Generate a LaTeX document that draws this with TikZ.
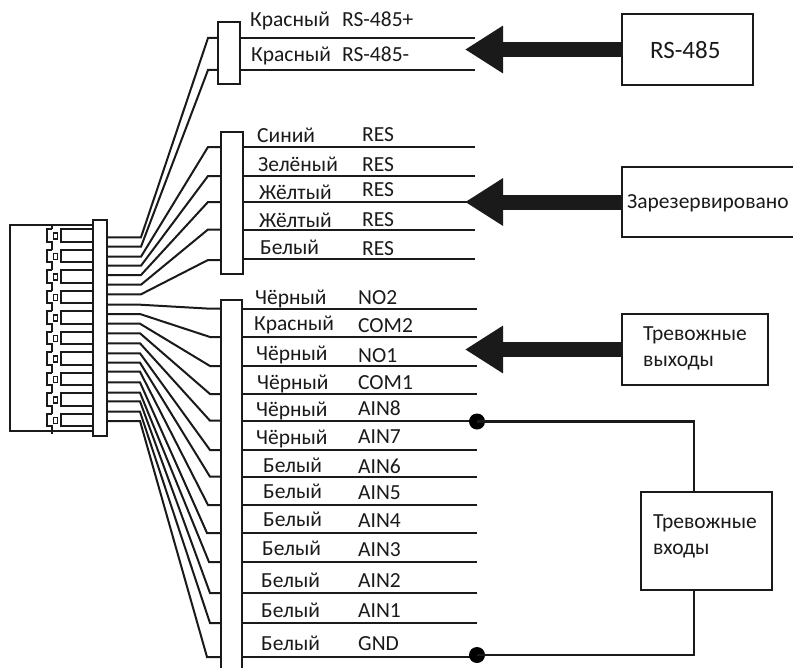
\documentclass[tikz,border=0pt]{standalone}
\usepackage{fontspec}
\setmainfont{Carlito}
\usetikzlibrary{arrows.meta,calc}
\definecolor{ink}{HTML}{1A1A1A}
\tikzset{
  wire/.style={draw=ink,line width=2bp,line join=miter},
  boxnode/.style={draw=ink,line width=2.3bp,fill=white,inner sep=0pt,outer sep=0pt,rectangle},
  strip/.style={boxnode,line width=2.1bp},
  lbl/.style={anchor=base west,inner sep=0pt,font=\fontsize{21.5bp}{24bp}\selectfont,text=ink},
  boxtxt/.style={anchor=base west,inner sep=0pt,font=\fontsize{21.5bp}{24bp}\selectfont,text=ink},
  bigarrow/.style={draw=ink,line width=15bp,-{Triangle[length=38bp,width=45bp]},color=ink},
  dotnode/.style={circle,fill=black,draw=none,minimum size=16bp,inner sep=0pt,outer sep=0pt},
  link/.style={draw=ink,line width=2.3bp},
}
\begin{document}
\begin{tikzpicture}[x=1bp,y=-1bp]
\useasboundingbox (0,0) rectangle (793,668);
\fill[white] (0,0) rectangle (793,668);

% device body
\draw[wire] (93,225) -- (9.5,225) -- (9.5,430.5) -- (93,430.5);
\draw[wire] (51.5,223.5) -- (51.5,229.3);
\foreach \i in {0,...,9}{
  \pgfmathsetmacro{\yo}{229.3+20.5*\i}
  \draw[wire] (51.5,\yo) -- (46.5,\yo) -- (46.5,\yo+12.4) -- (51.5,\yo+12.4) -- (51.5,\yo+20.5);
  \draw[wire,line width=1.6bp] (53.5,\yo+3.5) rectangle (57.5,\yo+9.5);
  \draw[wire] (93,\yo) -- (60.7,\yo) -- (60.7,\yo+12.4) -- (93,\yo+12.4);
}
\draw[wire] (51.5,425) -- (51.5,432);

% wires to the three terminal blocks
\node[strip,minimum width=13.4bp,minimum height=216bp] (conn) at (100,328) {};
\node[strip,minimum width=22bp,minimum height=62bp] (gone) at (229,53) {};
\node[strip,minimum width=22bp,minimum height=142bp] (gtwo) at (232,203) {};
\node[strip,minimum width=21bp,minimum height=372bp] (gthree) at (231.5,486) {};

\foreach \ya/\xe/\yb in {237.3/208/38,246.7/208/70}
  \draw[wire] (conn.east |- 0,\ya) -- (141,\ya) -- (\xe,\yb) -- (gone.west |- 0,\yb);
\foreach \ya/\xe/\yb in {256.7/208/147,265.7/208/176,275/208/202,284.7/208/229.5,294.3/208/260}
  \draw[wire] (conn.east |- 0,\ya) -- (141,\ya) -- (\xe,\yb) -- (gtwo.west |- 0,\yb);
\foreach \ya/\xe/\yb in {304.7/210/308.7,314/210/337,323.7/210/366,333.3/210/394,343.3/210/420.7,353.3/210/450,362.7/210/476.7,371.7/208/505,382.3/207/533,392.7/209/562,401.3/210/593,411.7/210/623,421/207/657}
  \draw[wire] (conn.east |- 0,\ya) -- (140,\ya) -- (\xe,\yb) -- (gthree.west |- 0,\yb);

% wires leaving the blocks
\foreach \y in {38,70}
  \draw[wire] (gone.east |- 0,\y) -- (475,\y);
\foreach \y in {147,176,202,229.5,259}
  \draw[wire] (gtwo.east |- 0,\y) -- (475,\y);
\foreach \y in {308.7,337,366,394,420.7,450,476.7,505,533,562,593,623,656.5}
  \draw[wire] (gthree.east |- 0,\y) -- (477,\y);

% wire labels
\foreach \x/\y/\t [count=\n] in {
  250/27/Красный,342/27/RS-485+,251/62/Красный,342/62/RS-485-,
  257/143/Синий,362/142/RES,258/171/Зелёный,362/171/RES,
  259/199/Жёлтый,362/196/RES,259/227/Жёлтый,362/226/RES,
  260/254/Белый,362/255/RES,
  255/304/Чёрный,358/304/NO2,254/330/Красный,358/332/COM2,
  256/360/Чёрный,358/362/NO1,257/389/Чёрный,358/389/COM1,
  256/416/Чёрный,358/415/AIN8,256/444/Чёрный,358/443/AIN7,
  263/472/Белый,358/473/AIN6,263/498/Белый,358/499/AIN5,
  263/526/Белый,358/527/AIN4,262/555/Белый,358/556/AIN3,
  261/587/Белый,358/587/AIN2,261/617/Белый,358/617/AIN1,
  261/650/Белый,358/650/GND}
  \node[lbl] (lab\n) at (\x,\y) {\t};

% right-hand boxes
\node[boxnode,minimum width=131bp,minimum height=71bp] (rsbox) at (687.5,49.5) {};
\node[boxtxt,font=\fontsize{25bp}{28bp}\selectfont] (rstxt) at (650,59) {RS-485};
\node[boxnode,minimum width=173bp,minimum height=70bp] (resbox) at (708.5,202) {};
\node[boxtxt] (restxt) at (627,208) {Зарезервировано};
\node[boxnode,minimum width=146bp,minimum height=71bp] (outbox) at (695,349.5) {};
\node[boxtxt] (outa) at (643,340) {Тревожные};
\node[boxtxt] (outb) at (643,366) {выходы};
\node[boxnode,minimum width=131bp,minimum height=98bp] (inbox) at (706.5,541) {};
\node[boxtxt] (ina) at (653,528) {Тревожные};
\node[boxtxt] (inb) at (653,554) {входы};

% thick arrows
\coordinate (tipa) at (465,49.5);
\coordinate (tipb) at (465,202);
\coordinate (tipc) at (465,349.5);
\draw[bigarrow] (rsbox.west) -- (tipa);
\draw[bigarrow] (resbox.west) -- (tipb);
\draw[bigarrow] (outbox.west) -- (tipc);

% alarm-input links
\node[dotnode] (dota) at (477,421.5) {};
\node[dotnode] (dotb) at (477,655) {};
\draw[link] (dota.center) -| ([xshift=-12.5bp]inbox.north);
\draw[link] (dotb.center) -| ([xshift=-12.5bp]inbox.south);
\end{tikzpicture}
\end{document}
